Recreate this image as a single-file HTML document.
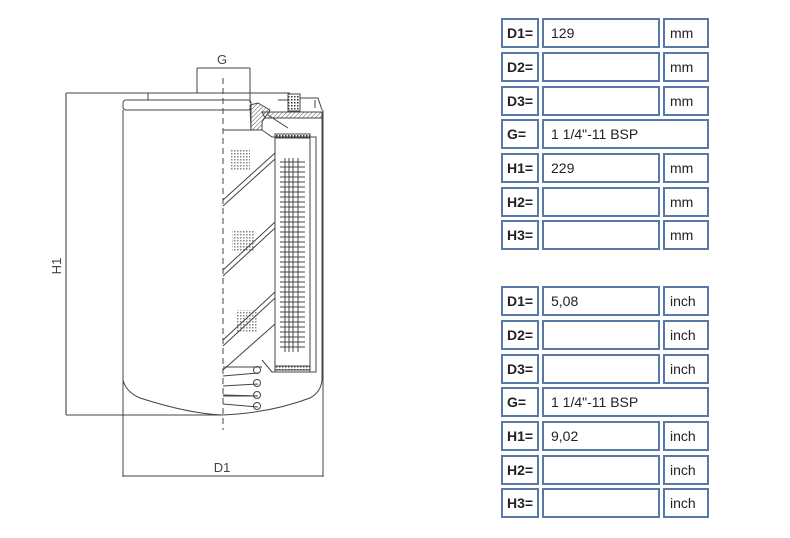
<!DOCTYPE html>
<html><head><meta charset="utf-8"><style>
body{margin:0;width:790px;height:538px;background:#fff;position:relative;overflow:hidden;font-family:"Liberation Sans",sans-serif}
.c{position:absolute;box-sizing:border-box;border:2px solid #5878a8;height:30px;font-size:14px;line-height:26px;color:#222}
.l{left:501px;width:38px;font-weight:bold;padding-left:4px}
.v{left:542px;width:118px;padding-left:7px}
.u{left:663px;width:46px;padding-left:5px}
.g{left:542px;width:167px;padding-left:7px}
</style></head><body>
<svg width="790" height="538" style="position:absolute;left:0;top:0" font-family="Liberation Sans, sans-serif">
<defs>
<pattern id="h" width="3" height="3" patternUnits="userSpaceOnUse" patternTransform="rotate(45)"><line x1="0" y1="0" x2="0" y2="3" stroke="#555" stroke-width="1"/></pattern>
<pattern id="d" width="3" height="3" patternUnits="userSpaceOnUse"><rect width="1.5" height="1.5" fill="#333"/></pattern>
</defs>
<g stroke="#444" fill="none" stroke-width="1">
<!-- H1 dimension -->
<line x1="66" y1="93" x2="290" y2="93"/>
<line x1="66" y1="93" x2="66" y2="415" stroke="#777" stroke-width="1.5"/>
<line x1="66" y1="415" x2="223" y2="415"/>
<!-- G dimension -->
<line x1="197" y1="68" x2="197" y2="93"/>
<line x1="250" y1="68" x2="250" y2="103"/>
<line x1="197" y1="68" x2="250" y2="68"/>
<!-- D1 -->
<line x1="123" y1="110" x2="123" y2="477"/>
<line x1="323" y1="110" x2="323" y2="477"/>
<line x1="123" y1="476" x2="323" y2="476"/>
<!-- cap -->
<rect x="123" y="100" width="128" height="10" rx="3"/>
<line x1="148" y1="93" x2="148" y2="100"/>
<!-- body -->
<path d="M123 110 L123 380 Q126 392 140 398 Q190 414 223 415 Q270 413 310 398 Q321 392 322 380 L322 118"/>
<line x1="251" y1="106" x2="251" y2="130"/>
<line x1="223" y1="130" x2="258" y2="130"/>
<!-- top mechanics -->
<path d="M250 105 L258 103 L270 110 L262 122 L262 130 L251 130 Z" fill="url(#h)"/>
<rect x="288" y="94" width="12" height="17" fill="url(#d)"/>
<path d="M262 112 L322 112 L322 118 L265 118 Z" fill="url(#h)"/>
<path d="M300 98 L318 98 L322 110 M278 100 L288 100 M268 115 L288 128 M315 100 L315 108"/>
<path d="M262 130 L272 137 L316 137 L316 372 L272 372 L262 360"/>
<rect x="275" y="134" width="35" height="4" fill="url(#d)"/>
<rect x="275" y="366" width="35" height="4" fill="url(#d)"/>
<line x1="275" y1="137" x2="275" y2="372"/>
<line x1="310" y1="137" x2="310" y2="372"/>
<!-- diagonals -->
<path d="M223 200 L275 153 M223 206 L275 159 M223 270 L275 222 M223 276 L275 228 M223 340 L275 292 M223 346 L275 298 M223 370 L275 324"/>
<!-- springs -->
<path d="M223 367 L262 367 M223 376 L258 373 M223 386 L258 384 M223 395 L258 396 M223 404 L258 407 M223 396 L255 396"/>
<circle cx="257" cy="370" r="3.5"/><circle cx="257" cy="383" r="3.5"/><circle cx="257" cy="395" r="3.5"/><circle cx="257" cy="406" r="3.5"/>
</g>
<g stroke="#444" stroke-width="1">
<path d="M280 162 H305 M280 167 H305 M280 172 H305 M280 177 H305 M280 182 H305 M280 187 H305 M280 192 H305 M280 197 H305 M280 202 H305 M280 207 H305 M280 212 H305 M280 217 H305 M280 222 H305 M280 227 H305 M280 232 H305 M280 237 H305 M280 242 H305 M280 247 H305 M280 252 H305 M280 257 H305 M280 262 H305 M280 267 H305 M280 272 H305 M280 277 H305 M280 282 H305 M280 287 H305 M280 292 H305 M280 297 H305 M280 302 H305 M280 307 H305 M280 312 H305 M280 317 H305 M280 322 H305 M280 327 H305 M280 332 H305 M280 337 H305 M280 342 H305 M280 347 H305"/>
<path d="M285 158 V352 M289 158 V352 M293 158 V352 M298 158 V352"/>
</g>
<g fill="#777"><rect x="230" y="150" width="20" height="20" fill="url(#d)" opacity=".6"/><rect x="232" y="230" width="22" height="22" fill="url(#d)" opacity=".6"/><rect x="236" y="310" width="22" height="22" fill="url(#d)" opacity=".6"/></g>
<line x1="223" y1="78" x2="223" y2="430" stroke="#444" stroke-dasharray="6,4"/>
<text x="222" y="64" font-size="13" fill="#444" text-anchor="middle">G</text>
<text x="222" y="472" font-size="13" fill="#444" text-anchor="middle">D1</text>
<text x="61" y="266" font-size="13" fill="#444" text-anchor="middle" transform="rotate(-90 61 266)">H1</text>
</svg>
<div class="c l" style="top:18px">D1=</div><div class="c v" style="top:18px">129</div><div class="c u" style="top:18px">mm</div>
<div class="c l" style="top:52px">D2=</div><div class="c v" style="top:52px"></div><div class="c u" style="top:52px">mm</div>
<div class="c l" style="top:86px">D3=</div><div class="c v" style="top:86px"></div><div class="c u" style="top:86px">mm</div>
<div class="c l" style="top:119px">G=</div><div class="c g" style="top:119px">1 1/4"-11 BSP</div>
<div class="c l" style="top:153px">H1=</div><div class="c v" style="top:153px">229</div><div class="c u" style="top:153px">mm</div>
<div class="c l" style="top:187px">H2=</div><div class="c v" style="top:187px"></div><div class="c u" style="top:187px">mm</div>
<div class="c l" style="top:220px">H3=</div><div class="c v" style="top:220px"></div><div class="c u" style="top:220px">mm</div>
<div class="c l" style="top:286px">D1=</div><div class="c v" style="top:286px">5,08</div><div class="c u" style="top:286px">inch</div>
<div class="c l" style="top:320px">D2=</div><div class="c v" style="top:320px"></div><div class="c u" style="top:320px">inch</div>
<div class="c l" style="top:354px">D3=</div><div class="c v" style="top:354px"></div><div class="c u" style="top:354px">inch</div>
<div class="c l" style="top:387px">G=</div><div class="c g" style="top:387px">1 1/4"-11 BSP</div>
<div class="c l" style="top:421px">H1=</div><div class="c v" style="top:421px">9,02</div><div class="c u" style="top:421px">inch</div>
<div class="c l" style="top:455px">H2=</div><div class="c v" style="top:455px"></div><div class="c u" style="top:455px">inch</div>
<div class="c l" style="top:488px">H3=</div><div class="c v" style="top:488px"></div><div class="c u" style="top:488px">inch</div>
</body></html>
